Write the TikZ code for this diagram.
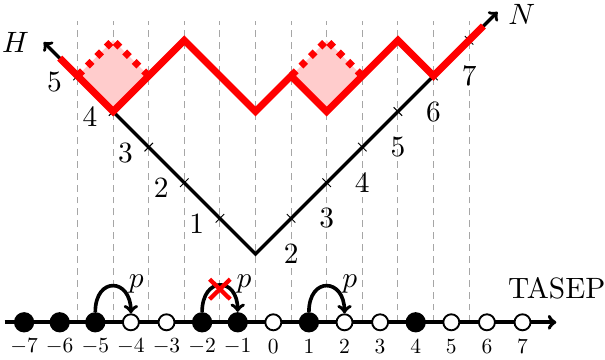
\documentclass[tikz,border=0pt]{standalone}
\usetikzlibrary{shapes.misc}
\begin{document}
\begin{tikzpicture}[x=1cm,y=1cm,
  gridline/.style={gray!70, line width=0.75pt, dash pattern=on 5.5pt off 4pt},
  armline/.style={black, line width=2.7pt, line join=miter},
  tickmark/.style={black, line width=0.75pt},
  redpath/.style={red, line width=5.6pt},
  reddots/.style={red, line width=5.6pt, dash pattern=on 5.2pt off 5.5pt, dash phase=10.2pt},
  pinksq/.style={fill=red!20},
  biglbl/.style={font=\normalsize, scale=2.35, inner sep=0pt},
  numlbl/.style={font=\normalsize, scale=1.72, inner sep=0pt},
  fullsite/.style={circle, fill=black, minimum size=0.57cm, inner sep=0pt},
  emptysite/.style={circle, draw=black, fill=white, line width=1.5pt, minimum size=0.45cm, inner sep=0pt},
  hoparc/.style={line width=2.9pt, ->},
]
\useasboundingbox (-7.677,-1.059) rectangle (9.317,9.053);

% grid
\foreach \x in {-5.5,-4.5,...,5.5} \draw[gridline] (\x,0) -- (\x,8.45);

% pink squares
\fill[pinksq] (-4.5,5.92) -- (-5.5,6.92) -- (-4.5,7.92) -- (-3.5,6.92) -- cycle;
\fill[pinksq] (1.5,5.92) -- (0.5,6.92) -- (1.5,7.92) -- (2.5,6.92) -- cycle;

% arms
\coordinate (V) at (-0.5,1.92);
\coordinate (Hend) at (-6.45,7.87);
\coordinate (Nend) at (6.3,8.72);
\draw[armline,<->] (Hend) -- (V) -- (Nend);

\foreach \k in {1,...,5} {
  \coordinate (tl\k) at ({-0.5-\k},{1.92+\k});
  \draw[tickmark] (tl\k) ++(-0.12,-0.12) -- ++(0.24,0.24);
  \node[biglbl] (ll\k) at ({-1.15-\k},{1.76+\k}) {$\k$};
}
\foreach \k in {2,...,7} {
  \coordinate (tr\k) at ({\k-1.5},{0.92+\k});
  \draw[tickmark] (tr\k) ++(-0.12,0.12) -- ++(0.24,-0.24);
  \node[biglbl] (lr\k) at ({\k-1.5},{\k-0.08}) {$\k$};
}

% red path
\draw[redpath] (-6,7.42) -- (-4.5,5.92) -- (-2.5,7.92) -- (-0.5,5.92) -- (0.5,6.92) -- (1.5,5.92) -- (3.5,7.92) -- (4.5,6.92) -- (5.9,8.32);
\draw[reddots] (-5.5,6.92) -- (-4.5,7.92);
\draw[reddots] (-3.5,6.92) -- (-4.5,7.92);
\draw[reddots] (0.5,6.92) -- (1.5,7.92);
\draw[reddots] (2.5,6.92) -- (1.5,7.92);

\node[biglbl] (H) at (-7.24,7.85) {$H$};
\node[biglbl] (N) at (6.98,8.65) {$N$};

% TASEP
\coordinate (La) at (-7.55,0);
\coordinate (Lb) at (7.95,0);
\draw[line width=3pt,->] (La) -- (Lb);
\foreach \i/\t in {-7/fullsite,-6/fullsite,-5/fullsite,-4/emptysite,-3/emptysite,-2/fullsite,-1/fullsite,0/emptysite,1/fullsite,2/emptysite,3/emptysite,4/fullsite,5/emptysite,6/emptysite,7/emptysite} {
  \node[\t] (s\i) at (\i,0) {};
  \node[numlbl] (n\i) at (\i,-0.68) {$\i$};
}
\draw[hoparc] (s-5.north) .. controls +(0,1.0) and +(0,1.0) .. (s-4.north);
\draw[hoparc] (s-2.north) .. controls +(0,1.0) and +(0,1.0) .. (s-1.north);
\draw[hoparc] (s1.north) .. controls +(0,1.0) and +(0,1.0) .. (s2.north);
\node[cross out, draw=red, line width=3.4pt, minimum width=0.46cm, minimum height=0.44cm, inner sep=0pt] (blk) at (-1.5,0.93) {};
\node[biglbl] (p1) at (-3.85,1.08) {$p$};
\node[biglbl] (p2) at (-0.82,1.08) {$p$};
\node[biglbl] (p3) at (2.15,1.08) {$p$};
\node[biglbl] (tasep) at (7.96,0.955) {TASEP};
\end{tikzpicture}
\end{document}
